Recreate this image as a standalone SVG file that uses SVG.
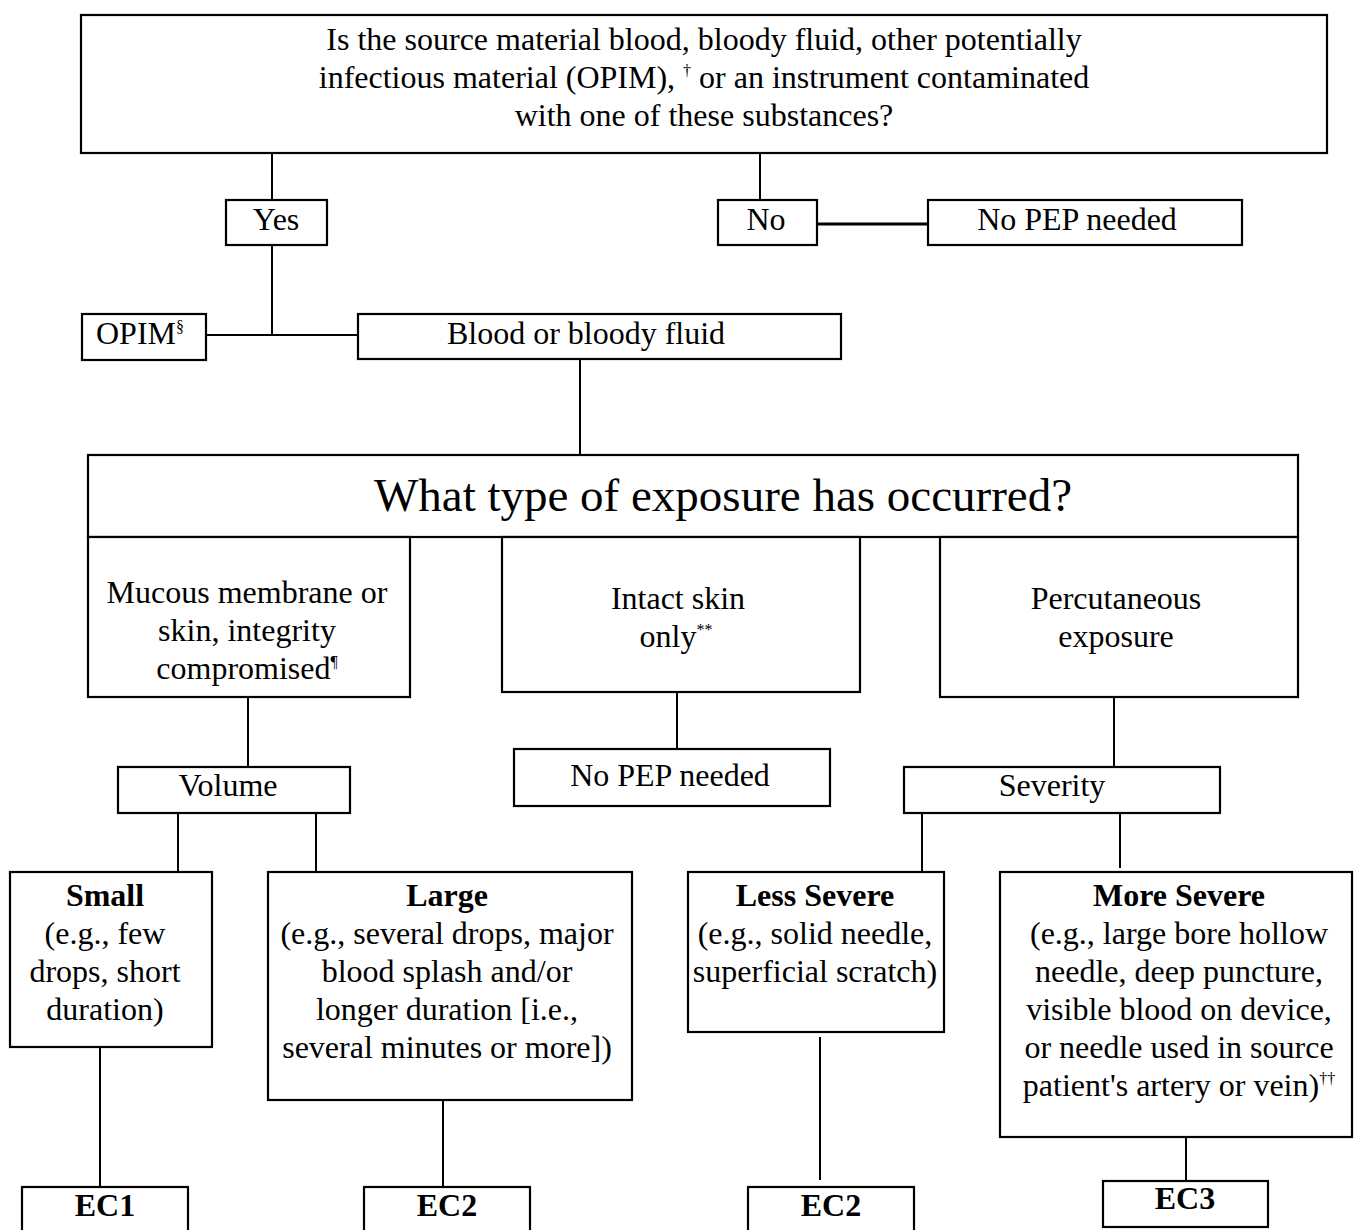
<svg xmlns="http://www.w3.org/2000/svg" width="1354" height="1230" viewBox="0 0 1354 1230">
<style>
  .box { fill: #ffffff; stroke: #000000; stroke-width: 2.2; }
  .ln { stroke: #000000; stroke-width: 2; fill: none; }
  .t { font-family: "Liberation Serif", "Times New Roman", serif; font-size: 32px; fill: #000000; text-anchor: middle; }
  .b { font-weight: bold; }
  .big { font-size: 47px; }
  .sup { font-size: 16px; }
</style>
<rect x="0" y="0" width="1354" height="1230" fill="#ffffff"/>

<g id="connectors">
  <line class="ln" x1="272" y1="153" x2="272" y2="200"/>
  <line class="ln" x1="760" y1="153" x2="760" y2="200"/>
  <line class="ln" x1="817" y1="224" x2="928" y2="224" style="stroke-width:3"/>
  <line class="ln" x1="272" y1="245" x2="272" y2="335"/>
  <line class="ln" x1="206" y1="335" x2="358" y2="335"/>
  <line class="ln" x1="580" y1="359" x2="580" y2="455"/>
  <line class="ln" x1="248" y1="697" x2="248" y2="767"/>
  <line class="ln" x1="677" y1="692" x2="677" y2="749"/>
  <line class="ln" x1="1114" y1="697" x2="1114" y2="767"/>
  <line class="ln" x1="178" y1="813" x2="178" y2="872"/>
  <line class="ln" x1="316" y1="813" x2="316" y2="874"/>
  <line class="ln" x1="922" y1="813" x2="922" y2="874"/>
  <line class="ln" x1="1120" y1="813" x2="1120" y2="868"/>
  <line class="ln" x1="100" y1="1047" x2="100" y2="1187"/>
  <line class="ln" x1="443" y1="1100" x2="443" y2="1187"/>
  <line class="ln" x1="820" y1="1037" x2="820" y2="1180"/>
  <line class="ln" x1="1186" y1="1137" x2="1186" y2="1181"/>
</g>

<g id="source-question">
  <rect class="box" x="81" y="15" width="1246" height="138"/>
  <text class="t" x="704" y="50">Is the source material blood, bloody fluid, other potentially</text>
  <text class="t" x="704" y="88">infectious material (OPIM), <tspan class="sup" dy="-12">†</tspan><tspan dy="12"> or an instrument contaminated</tspan></text>
  <text class="t" x="704" y="126">with one of these substances?</text>
</g>

<g id="yes">
  <rect class="box" x="226" y="200" width="101" height="45"/>
  <text class="t" x="276" y="230">Yes</text>
</g>

<g id="no">
  <rect class="box" x="718" y="200" width="99" height="45"/>
  <text class="t" x="766" y="230">No</text>
</g>

<g id="no-pep-1">
  <rect class="box" x="928" y="200" width="314" height="45"/>
  <text class="t" x="1077" y="230">No PEP needed</text>
</g>

<g id="opim">
  <rect class="box" x="82" y="314" width="124" height="46"/>
  <text class="t" x="140" y="344">OPIM<tspan class="sup" dy="-12">§</tspan></text>
</g>

<g id="blood">
  <rect class="box" x="358" y="314" width="483" height="45"/>
  <text class="t" x="586" y="344">Blood or bloody fluid</text>
</g>

<g id="exposure-type">
  <rect class="box" x="88" y="455" width="1210" height="82"/>
  <text class="t big" x="723" y="511">What type of exposure has occurred?</text>
</g>

<g id="mucous">
  <rect class="box" x="88" y="537" width="322" height="160"/>
  <text class="t" x="247" y="603">Mucous membrane or</text>
  <text class="t" x="247" y="641">skin, integrity</text>
  <text class="t" x="247" y="679">compromised<tspan class="sup" dy="-12">¶</tspan></text>
</g>

<g id="intact">
  <rect class="box" x="502" y="537" width="358" height="155"/>
  <text class="t" x="678" y="609">Intact skin</text>
  <text class="t" x="676" y="647">only<tspan class="sup" dy="-12">**</tspan></text>
</g>

<g id="percutaneous">
  <rect class="box" x="940" y="537" width="358" height="160"/>
  <text class="t" x="1116" y="609">Percutaneous</text>
  <text class="t" x="1116" y="647">exposure</text>
</g>

<g id="volume">
  <rect class="box" x="118" y="767" width="232" height="46"/>
  <text class="t" x="228" y="796">Volume</text>
</g>

<g id="no-pep-2">
  <rect class="box" x="514" y="749" width="316" height="57"/>
  <text class="t" x="670" y="786">No PEP needed</text>
</g>

<g id="severity">
  <rect class="box" x="904" y="767" width="316" height="46"/>
  <text class="t" x="1052" y="796">Severity</text>
</g>

<g id="small">
  <rect class="box" x="10" y="872" width="202" height="175"/>
  <text class="t b" x="105" y="906">Small</text>
  <text class="t" x="105" y="944">(e.g., few</text>
  <text class="t" x="105" y="982">drops, short</text>
  <text class="t" x="105" y="1020">duration)</text>
</g>

<g id="large">
  <rect class="box" x="268" y="872" width="364" height="228"/>
  <text class="t b" x="447" y="906">Large</text>
  <text class="t" x="447" y="944">(e.g., several drops, major</text>
  <text class="t" x="447" y="982">blood splash and/or</text>
  <text class="t" x="447" y="1020">longer duration [i.e.,</text>
  <text class="t" x="447" y="1058">several minutes or more])</text>
</g>

<g id="less-severe">
  <rect class="box" x="688" y="872" width="256" height="160"/>
  <text class="t b" x="815" y="906">Less Severe</text>
  <text class="t" x="815" y="944">(e.g., solid needle,</text>
  <text class="t" x="815" y="982">superficial scratch)</text>
</g>

<g id="more-severe">
  <rect class="box" x="1000" y="872" width="352" height="265"/>
  <text class="t b" x="1179" y="906">More Severe</text>
  <text class="t" x="1179" y="944">(e.g., large bore hollow</text>
  <text class="t" x="1179" y="982">needle, deep puncture,</text>
  <text class="t" x="1179" y="1020">visible blood on device,</text>
  <text class="t" x="1179" y="1058">or needle used in source</text>
  <text class="t" x="1179" y="1096">patient's artery or vein)<tspan class="sup" dy="-12">††</tspan></text>
</g>

<g id="ec1">
  <rect class="box" x="22" y="1187" width="166" height="60"/>
  <text class="t b" x="105" y="1216">EC1</text>
</g>

<g id="ec2-a">
  <rect class="box" x="364" y="1187" width="166" height="60"/>
  <text class="t b" x="447" y="1216">EC2</text>
</g>

<g id="ec2-b">
  <rect class="box" x="748" y="1187" width="166" height="60"/>
  <text class="t b" x="831" y="1216">EC2</text>
</g>

<g id="ec3">
  <rect class="box" x="1103" y="1181" width="165" height="46"/>
  <text class="t b" x="1185" y="1209">EC3</text>
</g>
</svg>
